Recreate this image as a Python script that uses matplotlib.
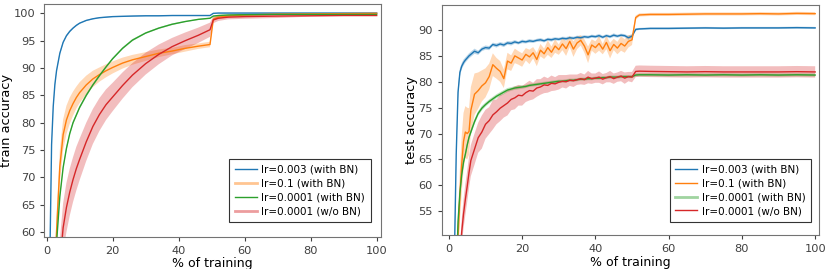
import numpy as np
import matplotlib
matplotlib.use("Agg")
import matplotlib.pyplot as plt
from matplotlib.lines import Line2D

labels = ["lr=0.003 (with BN)", "lr=0.1 (with BN)", "lr=0.0001 (with BN)", "lr=0.0001 (w/o BN)"]
colors = ["#1f77b4", "#ff7f0e", "#2ca02c", "#d62728"]

# ---- train accuracy (left) ----
train_x = [0, 1, 1.5, 2, 2.5, 3, 4, 5, 6, 7, 8, 9, 10, 12, 14, 16, 18, 20, 23, 26,
           30, 34, 38, 42, 46, 49.5, 50.5, 52, 55, 60, 70, 80, 90, 100]
train_blue = [10, 56, 76, 83, 87, 89.5, 92.7, 94.7, 95.9, 96.7, 97.3, 97.8, 98.2, 98.7, 99.0, 99.2, 99.3, 99.4, 99.45, 99.5,
              99.55, 99.55, 99.6, 99.6, 99.6, 99.6, 100.0, 100.05, 100.05, 100.05, 100.05, 100.05, 100.05, 100.05]
train_orange = [20, 30, 38, 46, 53, 60, 72, 77.8, 80.5, 82.2, 83.5, 84.6, 85.5, 86.9, 88.0, 88.8, 89.5, 90.1, 90.9, 91.5,
                92.1, 92.7, 93.1, 93.6, 94.0, 94.3, 98.9, 99.3, 99.5, 99.7, 99.85, 99.9, 99.95, 100.0]
train_green = [10, 20, 30, 40, 50, 58, 66.5, 71.8, 75.3, 78, 80, 81.4, 82.8, 85, 86.9, 88.6, 90.2, 91.7, 93.6, 95.1,
               96.4, 97.3, 98.0, 98.5, 98.9, 99.1, 99.5, 99.6, 99.7, 99.75, 99.8, 99.8, 99.8, 99.8]
train_red = [5, 15, 22, 30, 37, 44, 54, 60.8, 64.5, 67.3, 69.6, 71.6, 73.3, 76.5, 79.3, 81.5, 83.3, 84.7, 86.8, 88.7,
             90.8, 92.5, 93.9, 95.0, 96.0, 97.0, 98.8, 99.1, 99.3, 99.4, 99.5, 99.55, 99.6, 99.6]

train_blue_sd = [0.3, 0.5, 0.5, 0.4, 0.4, 0.3, 0.3, 0.2, 0.2, 0.2, 0.15, 0.15, 0.1, 0.1, 0.1, 0.1, 0.1, 0.1, 0.1, 0.1,
                 0.1, 0.1, 0.1, 0.1, 0.1, 0.1, 0.05, 0.05, 0.05, 0.05, 0.05, 0.05, 0.05, 0.05]
train_orange_sd = [0.5, 1, 1.5, 2, 2.5, 3, 3, 2.8, 2.6, 2.4, 2.2, 2.0, 1.9, 1.7, 1.5, 1.3, 1.2, 1.1, 1.0, 0.9,
                   0.8, 0.7, 0.6, 0.6, 0.5, 0.5, 0.3, 0.3, 0.2, 0.2, 0.15, 0.15, 0.1, 0.1]
train_green_sd = [0.5, 0.5, 0.5, 0.5, 0.5, 0.5, 0.5, 0.4, 0.4, 0.3, 0.3, 0.3, 0.3, 0.3, 0.25, 0.25, 0.2, 0.2, 0.2, 0.2,
                  0.15, 0.15, 0.15, 0.1, 0.1, 0.1, 0.1, 0.1, 0.1, 0.1, 0.1, 0.1, 0.1, 0.1]
train_red_sd = [2, 3, 3.5, 4, 4, 4.5, 4.5, 4.5, 4.5, 4.3, 4.1, 4.0, 3.8, 3.5, 3.2, 3.0, 2.8, 2.6, 2.4, 2.2,
                2.0, 1.8, 1.6, 1.5, 1.4, 1.3, 0.6, 0.5, 0.4, 0.4, 0.35, 0.15, 0.1, 0.1]

# ---- test accuracy (right) ----
test_x = [0, 1, 1.5, 2, 2.5, 3, 3.5, 4, 4.5, 5, 5.5, 6, 7, 8, 9, 10, 11, 12, 13, 14,
          15, 16, 17, 18, 19, 20, 21, 22, 23, 24, 25, 26, 27, 28, 29, 30, 31, 32, 33, 34,
          35, 36, 37, 38, 39, 40, 41, 42, 43, 44, 45, 46, 47, 48, 49, 50, 51, 52, 55, 60,
          65, 70, 75, 80, 85, 90, 95, 100]
test_blue = [10, 32, 46, 66, 78, 81.8, 83.0, 83.7, 84.2, 84.6, 85.0, 85.3, 85.9, 85.6, 86.3, 86.6, 86.5, 87.2, 87.0, 87.3,
             87.1, 87.5, 87.4, 87.7, 87.5, 87.8, 87.7, 87.9, 87.8, 88.0, 88.1, 87.9, 88.2, 88.1, 88.3, 88.2, 88.4, 88.3, 88.5, 88.4,
             88.6, 88.5, 88.7, 88.6, 88.8, 88.7, 88.9, 88.6, 88.9, 88.7, 89.0, 88.8, 89.0, 88.9, 88.5, 88.8, 90.1, 90.2, 90.3, 90.3,
             90.35, 90.4, 90.35, 90.4, 90.4, 90.4, 90.45, 90.4]
test_orange = [10, 20, 30, 40, 50, 58, 64, 68.5, 70.3, 70.0, 70.4, 74.5, 77.6, 78.3, 79.2, 79.8, 81.0, 83.3, 82.6, 82.0,
               80.6, 84.0, 83.6, 85.0, 84.6, 84.2, 85.3, 84.8, 85.6, 84.3, 86.1, 85.4, 86.6, 85.7, 86.9, 86.2, 87.3, 86.4, 87.8, 86.3,
               87.5, 88.0, 86.9, 85.2, 87.1, 86.6, 87.4, 86.3, 87.6, 86.0, 87.2, 86.5, 87.4, 86.9, 87.8, 88.1, 92.4, 92.9, 93.0, 93.0,
               93.05, 93.1, 93.1, 93.1, 93.15, 93.1, 93.2, 93.15]
test_green = [10, 20, 30, 42, 53, 58.5, 62, 64.5, 66, 67.8, 69.3, 70.3, 72.3, 73.9, 74.9, 75.6, 76.2, 76.7, 77.2, 77.6,
              78.0, 78.4, 78.6, 78.8, 78.9, 79.0, 79.1, 79.3, 79.4, 79.5, 79.6, 79.7, 79.8, 79.9, 80.0, 80.1, 80.1, 80.2, 80.3, 80.3,
              80.4, 80.5, 80.5, 80.6, 80.6, 80.7, 80.7, 80.8, 80.8, 80.9, 80.9, 80.9, 81.0, 81.0, 81.0, 81.0, 81.3, 81.35, 81.35, 81.3,
              81.35, 81.3, 81.35, 81.3, 81.35, 81.3, 81.35, 81.3]
test_red = [10, 15, 22, 30, 38, 46, 51, 54.5, 57.3, 59.8, 62.5, 64.8, 67.0, 69.2, 70.3, 71.8, 72.5, 73.6, 74.2, 74.9,
            75.4, 75.9, 76.6, 76.9, 77.4, 77.3, 77.9, 78.3, 78.2, 78.8, 79.0, 79.4, 79.3, 79.7, 79.6, 79.9, 80.1, 80.0, 80.3, 80.2,
            80.4, 80.6, 80.4, 80.9, 80.6, 80.7, 80.9, 80.5, 80.8, 81.0, 80.6, 80.9, 81.1, 80.7, 81.0, 80.9, 82.0, 82.05, 82.0, 81.95,
            81.9, 81.95, 81.9, 81.9, 81.9, 81.9, 81.95, 81.9]

test_blue_sd = [0.5, 1.5, 1.5, 1.5, 1.2, 0.8, 0.6, 0.6, 0.5, 0.5, 0.5, 0.5, 0.5, 0.4, 0.4, 0.4, 0.4, 0.35, 0.4, 0.35,
                0.4, 0.35, 0.4, 0.35, 0.3, 0.35, 0.3, 0.35, 0.3, 0.3, 0.35, 0.3, 0.3, 0.35, 0.3, 0.3, 0.3, 0.35, 0.3, 0.3,
                0.3, 0.35, 0.3, 0.3, 0.3, 0.3, 0.35, 0.3, 0.3, 0.3, 0.35, 0.3, 0.3, 0.3, 0.4, 0.4, 0.25, 0.2, 0.2, 0.2,
                0.2, 0.2, 0.2, 0.2, 0.2, 0.2, 0.2, 0.2]
test_orange_sd = [1, 2, 3, 4, 4.5, 5, 5.5, 5.5, 5, 5, 4.5, 4.5, 4, 3.5, 3, 2.8, 2.5, 2.2, 2, 2,
                  1.8, 1.6, 1.5, 1.4, 1.3, 1.3, 1.2, 1.4, 1.1, 1.3, 1.2, 1.0, 1.4, 1.1, 1.3, 1.0, 1.2, 1.4, 1.1, 1.5,
                  1.2, 1.0, 1.3, 1.6, 1.1, 1.2, 1.4, 1.0, 1.3, 1.5, 1.1, 1.2, 1.4, 1.3, 1.2, 1.0, 0.4, 0.3, 0.3, 0.3,
                  0.3, 0.3, 0.3, 0.3, 0.3, 0.3, 0.3, 0.3]
test_green_sd = [0.5, 0.8, 0.8, 0.8, 0.8, 0.7, 0.6, 0.6, 0.5, 0.5, 0.5, 0.5, 0.5, 0.45, 0.45, 0.4, 0.4, 0.4, 0.4, 0.4,
                 0.4, 0.4, 0.35, 0.35, 0.35, 0.35, 0.3, 0.3, 0.3, 0.3, 0.3, 0.3, 0.3, 0.3, 0.3, 0.3, 0.3, 0.3, 0.3, 0.3,
                 0.3, 0.3, 0.3, 0.3, 0.3, 0.3, 0.3, 0.3, 0.3, 0.3, 0.3, 0.3, 0.3, 0.3, 0.3, 0.3, 0.3, 0.3, 0.3, 0.3,
                 0.3, 0.3, 0.3, 0.3, 0.3, 0.3, 0.3, 0.3]
test_red_sd = [1, 1.5, 1.8, 2, 2, 2.2, 2.5, 2.8, 3, 3, 3, 3, 3, 2.9, 3.2, 2.8, 2.6, 2.8, 2.4, 2.5,
               2.3, 2.4, 2.1, 2.2, 2.0, 1.9, 1.8, 1.9, 1.6, 1.7, 1.5, 1.6, 1.4, 1.5, 1.3, 1.4, 1.2, 1.3, 1.1, 1.2,
               1.0, 1.1, 1.0, 1.2, 1.0, 0.9, 1.1, 1.0, 0.9, 1.1, 1.0, 0.9, 1.0, 1.1, 0.9, 1.0, 1.1, 1.1, 1.1, 1.1,
               1.1, 1.1, 1.1, 1.1, 1.1, 1.1, 1.1, 1.1]

train = [(train_blue, train_blue_sd), (train_orange, train_orange_sd),
         (train_green, train_green_sd), (train_red, train_red_sd)]
test = [(test_blue, test_blue_sd), (test_orange, test_orange_sd),
        (test_green, test_green_sd), (test_red, test_red_sd)]

fig = plt.figure(figsize=(8.3, 2.69), dpi=100)
ax1 = fig.add_axes([0.0534, 0.119, 0.4056, 0.866])
ax2 = fig.add_axes([0.532, 0.126, 0.455, 0.855])


def draw(ax, x, series):
    x = np.array(x)
    for (y, sd), c in zip(series, colors):
        y = np.array(y)
        sd = np.array(sd)
        ax.fill_between(x, y - sd, y + sd, color=c, alpha=0.3, lw=0)
        ax.plot(x, y, color=c, lw=1)


draw(ax1, train_x, train)
draw(ax2, test_x, test)

ax1.set_xlim(-0.7, 101.3)
ax1.set_ylim(59.1, 101.7)
ax1.set_yticks([60, 65, 70, 75, 80, 85, 90, 95, 100])
ax2.set_xlim(-2, 101.1)
ax2.set_ylim(50.4, 94.8)
ax2.set_yticks([55, 60, 65, 70, 75, 80, 85, 90])

for ax in (ax1, ax2):
    ax.set_xticks([0, 20, 40, 60, 80, 100])
    ax.tick_params(labelsize=8.2, length=3, colors="0.25")
    ax.set_xlabel("% of training", fontsize=9, labelpad=1)
    for s in ax.spines.values():
        s.set_color("0.45")

ax1.set_ylabel("train accuracy", fontsize=9.4)
ax2.set_ylabel("test accuracy", fontsize=9.4)
ax1.yaxis.set_label_coords(-0.094, 0.5)
ax2.yaxis.set_label_coords(-0.063, 0.5)

# legend handles: in the picture some entries show the light band colour
thick1 = [False, True, False, True]
thick2 = [False, False, True, False]


def handles(thick):
    hs = []
    for c, t in zip(colors, thick):
        if t:
            hs.append(Line2D([], [], color=c, lw=2, alpha=0.45))
        else:
            hs.append(Line2D([], [], color=c, lw=1))
    return hs


for ax, thick, anchor in ((ax1, thick1, (0.970, 0.064)), (ax2, thick2, (0.979, 0.058))):
    leg = ax.legend(handles(thick), labels, loc="lower right", bbox_to_anchor=anchor,
                    borderaxespad=0, fontsize=7.5, fancybox=False, framealpha=1,
                    edgecolor="0.2", handlelength=2.1, handletextpad=0.45,
                    labelspacing=0.37, borderpad=0.55)
    leg.get_frame().set_linewidth(0.8)

fig.savefig("out.png", dpi=100)
